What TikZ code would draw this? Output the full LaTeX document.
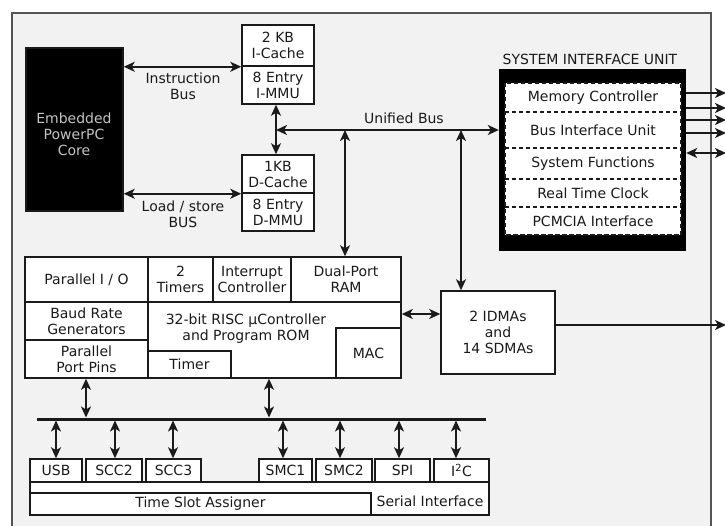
\documentclass[tikz,border=0pt]{standalone}
\usepackage{fontspec}
\setmainfont{DejaVu Sans}
\usetikzlibrary{arrows.meta}
\definecolor{ink}{HTML}{1A1A1A}
\definecolor{panel}{HTML}{F2F2F2}
\definecolor{framec}{HTML}{555555}
\definecolor{corefg}{HTML}{C4C4C4}
\begin{document}
\begin{tikzpicture}[x=1pt,y=-1pt,
  font=\fontsize{14}{16}\selectfont,
  span/.style args={#1/#2/#3/#4}{minimum width={(#3-#1)*1pt}, minimum height={(#4-#2)*1pt},
    at={({(#1+#3)/2},{(#2+#4)/2})}},
  box/.style={draw=ink, line width=1.5pt, fill=white, inner sep=0pt, align=center, text=ink},
  cell/.style={fill=white, inner sep=0pt, align=center, text=ink},
  lbl/.style={align=center, text=ink, inner sep=0pt},
  dsh/.style={draw=ink, line width=1.6pt, dash pattern=on 4.5pt off 2.5pt},
  tip/.tip={Stealth[length=11pt,width=10pt,inset=3pt]},
  dbl/.style={draw=ink, line width=1.6pt, tip-tip},
  arr/.style={draw=ink, line width=1.6pt, -tip},
  bus/.style={draw=ink, line width=3pt},
]
\useasboundingbox (0,0) rectangle (725,525);
\clip (0,0) rectangle (725,525);

% chip outline
\fill[panel] (12,13) rectangle (711,540);
\draw[framec, line width=2pt] (12,540) -- (12,13) -- (711,13) -- (711,540);

% processor core and caches
\node[box, fill=black, span=26/48/123/211] (core) {};
\node[lbl, text=corefg] (coretext) at (74,134) {Embedded\\PowerPC\\Core};
\node[box, span=242/25/314/66] (icache) {2 KB\\I-Cache};
\node[box, span=242/66/314/104] (immu) {8 Entry\\I-MMU};
\node[box, span=242/155/314/193] (dcache) {1KB\\D-Cache};
\node[box, span=242/193/314/231] (dmmu) {8 Entry\\D-MMU};

\draw[dbl] (core.east |- icache.south) -- (icache.south west);
\draw[dbl] (core.east |- dcache.south) -- (dcache.south west);
\node[lbl] (ibus) at (183,86) {Instruction\\Bus};
\node[lbl] (lsbus) at (183,214) {Load / store\\BUS};

% system interface unit
\node[lbl] (siutitle) at (590,59) {SYSTEM INTERFACE UNIT};
\node[fill=black, inner sep=0pt, span=499/69/686/251] (siu) {};
\node[cell, span=505/83/681/112] (mc) {Memory Controller};
\node[cell, span=505/112/681/148] (biu) {Bus Interface Unit};
\node[cell, span=505/148/681/179] (sf) {System Functions};
\node[cell, span=505/179/681/207] (rtc) {Real Time Clock};
\node[cell, span=505/207/681/235] (pcm) {PCMCIA Interface};
\draw[dsh] (mc.north west) rectangle (pcm.south east);
\draw[dsh] (mc.south west) -- (mc.south east);
\draw[dsh] (biu.south west) -- (biu.south east);
\draw[dsh] (sf.south west) -- (sf.south east);
\draw[dsh] (rtc.south west) -- (rtc.south east);

% external signals
\coordinate (o1) at (726,93);
\coordinate (o2) at (726,108);
\coordinate (o3) at (726,120);
\coordinate (o4) at (726,133);
\coordinate (o5) at (726,153);
\draw[arr] (siu.east |- o1) -- (o1);
\draw[arr] (siu.east |- o2) -- (o2);
\draw[arr] (siu.east |- o3) -- (o3);
\draw[arr] (siu.east |- o4) -- (o4);
\draw[dbl] (siu.east |- o5) -- (o5);

% communication processor module
\node[box, span=25/257/401/378] (cpm) {};
\node[lbl] (risc) at (246,329) {32-bit RISC μController\\and Program ROM};
\node[box, span=25/257/148/302] (pio) {Parallel I / O};
\node[box, span=148/257/213/302] (tim2) {2\\Timers};
\node[box, span=213/257/291/302] (intc) {Interrupt\\Controller};
\node[box, span=291/257/401/302] (dpram) {Dual-Port\\RAM};
\node[box, span=25/302/148/340] (brg) {Baud Rate\\Generators};
\node[box, span=25/340/148/378] (ppp) {Parallel\\Port Pins};
\node[box, span=148/351/231/378] (timer) {Timer};
\node[box, span=336/328/401/378] (mac) {MAC};

\node[box, span=441/291/555/374] (idma) {2 IDMAs\\and\\14 SDMAs};

% unified bus
\coordinate (ub0) at (276,130);
\coordinate (ub1) at (345,130);
\coordinate (ub2) at (461,130);
\draw[dbl] (immu.south -| ub0) -- (dcache.north -| ub0);
\draw[dbl] (ub0) -- (siu.west |- ub0);
\node[lbl] (ublabel) at (404,118) {Unified Bus};
\draw[dbl] (ub1) -- (ub1 |- dpram.north);
\draw[dbl] (ub2) -- (ub2 |- idma.north);

\coordinate (dm) at (441,314);
\draw[dbl] (cpm.east |- dm) -- (idma.west |- dm);
\coordinate (o6) at (726,325);
\draw[arr] (idma.east |- o6) -- (o6);

% serial interface and channels
\node[box, span=30/482/489/515] (si) {};
\node[lbl] (silabel) at (430,501) {Serial Interface};
\node[box, span=30/493/371/515] (tsa) {Time Slot Assigner};
\node[box, span=30/459/82/482] (usb) {USB};
\node[box, span=86/459/142/482] (scc2) {SCC2};
\node[box, span=146/459/201/482] (scc3) {SCC3};
\node[box, span=259/459/312/482] (smc1) {SMC1};
\node[box, span=316/459/372/482] (smc2) {SMC2};
\node[box, span=375/459/430/482] (spi) {SPI};
\node[box, span=434/459/489/482] (iic) {I\textsuperscript{2}C};

% peripheral bus
\coordinate (busL) at (37,419);
\coordinate (busR) at (486,419);
\draw[bus] (busL) -- (busR);
\coordinate (bt1) at (86,417.5);
\coordinate (bt2) at (269,417.5);
\draw[dbl] (bt1 |- cpm.south) -- (bt1);
\draw[dbl] (bt2 |- cpm.south) -- (bt2);
\coordinate (p1) at (56,420.5);
\coordinate (p2) at (115,420.5);
\coordinate (p3) at (173,420.5);
\coordinate (p4) at (283,420.5);
\coordinate (p5) at (340,420.5);
\coordinate (p6) at (399,420.5);
\coordinate (p7) at (456,420.5);
\draw[dbl] (p1) -- (p1 |- usb.north);
\draw[dbl] (p2) -- (p2 |- scc2.north);
\draw[dbl] (p3) -- (p3 |- scc3.north);
\draw[dbl] (p4) -- (p4 |- smc1.north);
\draw[dbl] (p5) -- (p5 |- smc2.north);
\draw[dbl] (p6) -- (p6 |- spi.north);
\draw[dbl] (p7) -- (p7 |- iic.north);
\end{tikzpicture}
\end{document}
